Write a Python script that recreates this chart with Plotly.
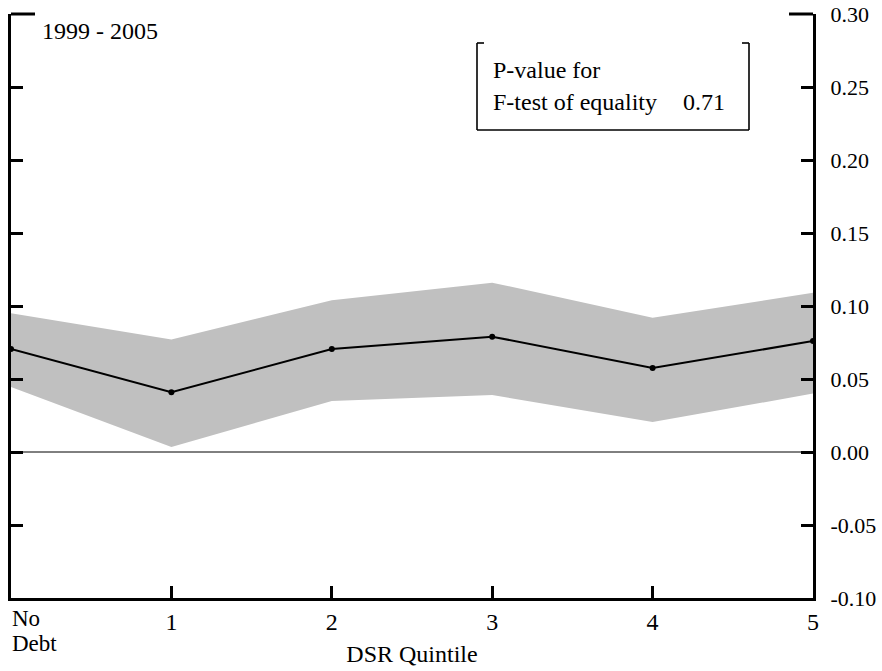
import plotly.graph_objects as go

categories = ["No Debt", "1", "2", "3", "4", "5"]
x_pos = [0, 1, 2, 3, 4, 5]
estimate = [0.0705, 0.041, 0.0705, 0.079, 0.0575, 0.076]
upper = [0.095, 0.077, 0.104, 0.116, 0.092, 0.109]
lower = [0.0445, 0.0034, 0.035, 0.039, 0.0205, 0.040]
y_ticks = [-0.10, -0.05, 0.00, 0.05, 0.10, 0.15, 0.20, 0.25, 0.30]
y_tick_text = ["-0.10", "-0.05", "0.00", "0.05", "0.10", "0.15", "0.20", "0.25", "0.30"]
period_label = "1999 - 2005"
pvalue_label = "0.71"

W, H = 882, 671
L, R, T, B = 11, 813, 14, 598
FONT = "Liberation Serif"
FS = 24

def px(xp):
    return (xp - L) / (R - L)

def py(yp):
    return (B - yp) / (B - T)

fig = go.Figure()
fig.add_trace(go.Scatter(x=x_pos + x_pos[::-1], y=upper + lower[::-1], fill="toself",
                         fillcolor="#c0c0c0", line=dict(width=0), mode="lines",
                         hoverinfo="skip", showlegend=False))
fig.add_trace(go.Scatter(x=x_pos, y=estimate, mode="lines+markers",
                         line=dict(color="black", width=2),
                         marker=dict(color="black", size=6), showlegend=False))

shapes = []
# zero line
shapes.append(dict(type="line", xref="paper", yref="y", x0=0, x1=1, y0=0, y1=0,
                   line=dict(color="black", width=1)))
# long top corner ticks
shapes.append(dict(type="line", xref="paper", yref="paper", x0=px(L), x1=px(L + 24), y0=1, y1=1,
                   line=dict(color="black", width=3)))
shapes.append(dict(type="line", xref="paper", yref="paper", x0=px(R - 24), x1=px(R), y0=1, y1=1,
                   line=dict(color="black", width=3)))
# legend box (bracket style)
bx0, bx1, by0, by1 = 477, 749, 43, 130
box_line = dict(color="black", width=1.6)
for seg in [((bx0, by0), (bx0, by1)), ((bx1, by0), (bx1, by1)), ((bx0, by1), (bx1, by1)),
            ((bx0, by0), (bx0 + 7, by0)), ((bx1 - 7, by0), (bx1, by0))]:
    (a, b), (c, d) = seg
    shapes.append(dict(type="line", xref="paper", yref="paper", x0=px(a), y0=py(b),
                       x1=px(c), y1=py(d), line=box_line))

annotations = [
    dict(x=0, y=py(618), xref="x", yref="paper", text="No", showarrow=False,
         xanchor="left", yanchor="middle", xshift=-1, font=dict(size=23)),
    dict(x=0, y=py(643), xref="x", yref="paper", text="Debt", showarrow=False,
         xanchor="left", yanchor="middle", xshift=-1, font=dict(size=23)),
    dict(x=px(42), y=py(31), xref="paper", yref="paper", text=period_label, showarrow=False,
         xanchor="left", yanchor="middle", xshift=-2, font=dict(size=FS)),
    dict(x=px(493), y=py(70), xref="paper", yref="paper", text="P-value for", showarrow=False,
         xanchor="left", yanchor="middle", xshift=-2, font=dict(size=FS)),
    dict(x=px(493), y=py(102), xref="paper", yref="paper", text="F-test of equality", showarrow=False,
         xanchor="left", yanchor="middle", xshift=-2, font=dict(size=FS)),
    dict(x=px(683), y=py(102), xref="paper", yref="paper", text=pvalue_label, showarrow=False,
         xanchor="left", yanchor="middle", xshift=-2, font=dict(size=FS)),
]

fig.update_layout(
    width=W, height=H,
    margin=dict(l=L, r=W - R, t=T, b=H - B, pad=0, autoexpand=False),
    paper_bgcolor="white", plot_bgcolor="white",
    font=dict(family=FONT, color="black", size=FS),
    shapes=shapes, annotations=annotations,
    xaxis=dict(range=[0, 5], tickvals=x_pos[1:], ticktext=categories[1:],
               ticks="inside", ticklen=12, tickwidth=2.5, tickcolor="black",
               showline=True, linecolor="black", linewidth=3, showgrid=False, zeroline=False,
               tickfont=dict(size=FS), ticklabelstandoff=0, automargin=False,
               title=dict(text="DSR Quintile", font=dict(size=FS), standoff=12)),
    yaxis=dict(range=[-0.10, 0.30], side="right", tickvals=y_ticks, ticktext=y_tick_text,
               ticks="inside", ticklen=12, tickwidth=2.5, tickcolor="black",
               showline=True, mirror="ticks", linecolor="black", linewidth=3, automargin=False,
               showgrid=False, zeroline=False, tickfont=dict(size=22), ticklabelstandoff=10),
)

fig.write_html("out.html")
